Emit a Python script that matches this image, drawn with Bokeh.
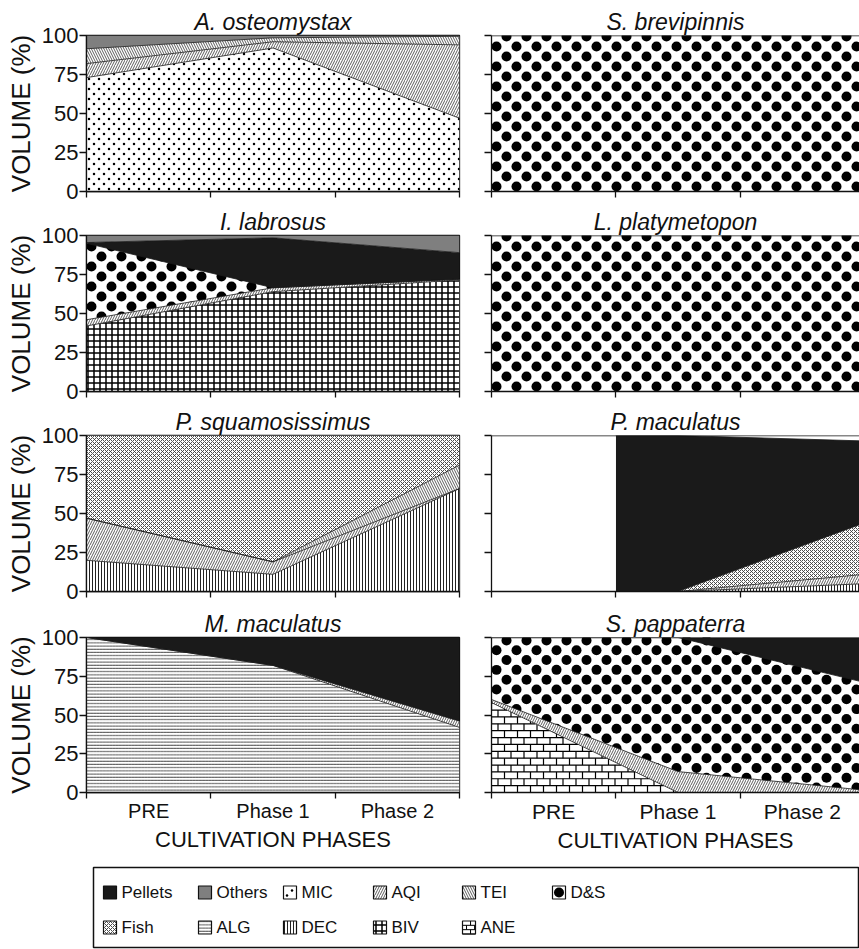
import math
import numpy as np
from bokeh.plotting import figure
from bokeh.layouts import column, row
from bokeh.models import FixedTicker, Range1d, Span
from bokeh.core.properties import value
from bokeh.embed import file_html
from bokeh.resources import INLINE

NAN = float("nan")

# ---------------------------------------------------------------- data
PHASES = ["PRE", "Phase 1", "Phase 2"]
LEGEND_ROW1 = ["Pellets", "Others", "MIC", "AQI", "TEI", "D&S"]
LEGEND_ROW2 = ["Fish", "ALG", "DEC", "BIV", "ANE"]
STACK_ORDER = ["BIV", "ANE", "DEC", "ALG", "MIC", "AQI", "TEI", "D&S", "Fish", "Pellets", "Others"]
Y_TICKS = [0, 25, 50, 75, 100]

# volume (%) of each food item at PRE, Phase 1, Phase 2
a_osteomystax = {"MIC": [73, 92, 47], "AQI": [9, 4, 47], "TEI": [9.5, 2.5, 5.5], "Others": [8.5, 1.5, 0.5]}
s_brevipinnis = {"D&S": [100, 100, 100]}
i_labrosus = {"BIV": [42, 64, 71.5], "AQI": [4, 2.5, 0.5], "D&S": [49, 0, 0],
              "Pellets": [0.5, 32, 17], "Others": [4.5, 1.5, 11]}
l_platymetopon = {"D&S": [100, 100, 100]}
p_squamosissimus = {"DEC": [20, 11, 66], "AQI": [27, 8, 0], "TEI": [0, 0, 15], "Fish": [53, 81, 19]}
p_maculatus = {"DEC": [NAN, 0, 5], "AQI": [NAN, 0, 6], "Fish": [NAN, 0, 33], "Pellets": [NAN, 100, 52.5]}
m_maculatus = {"ALG": [100, 82, 42], "AQI": [0, 0, 4], "Pellets": [0, 18, 54]}
s_pappaterra = {"ANE": [58, 0, 0], "AQI": [2, 13.5, 1.5], "D&S": [40, 86.5, 69.5], "Pellets": [0, 0, 29]}

PANELS = [
    ("A. osteomystax", a_osteomystax), ("S. brevipinnis", s_brevipinnis),
    ("I. labrosus", i_labrosus), ("L. platymetopon", l_platymetopon),
    ("P. squamosissimus", p_squamosissimus), ("P. maculatus", p_maculatus),
    ("M. maculatus", m_maculatus), ("S. pappaterra", s_pappaterra),
]

# ---------------------------------------------------------------- styles
FONT = "Liberation Sans"
INK = "#111111"

STYLE = {
    "Pellets": dict(fill_color="#1a1a1a"),
    "Others": dict(fill_color="#7f7f7f"),
    "MIC": dict(fill_color="white"),
    "AQI": dict(fill_color="white", hatch_pattern="right_diagonal_line", hatch_scale=5, hatch_weight=0.8, hatch_color="#333333"),
    "TEI": dict(fill_color="white", hatch_pattern="left_diagonal_line", hatch_scale=5, hatch_weight=0.8, hatch_color="#333333"),
    "D&S": dict(fill_color="white"),
    "Fish": dict(fill_color="white", hatch_pattern="diagonal_cross", hatch_scale=4, hatch_weight=0.9, hatch_color="#3a3a3a"),
    "ALG": dict(fill_color="white", hatch_pattern="horizontal_line", hatch_scale=3.2, hatch_weight=0.8, hatch_color="#222222"),
    "DEC": dict(fill_color="white", hatch_pattern="vertical_line", hatch_scale=3, hatch_weight=1.0, hatch_color="#222222"),
    "BIV": dict(fill_color="white", hatch_pattern="cross", hatch_scale=6, hatch_weight=1.5, hatch_color="black"),
    "ANE": dict(fill_color="white"),
}
# textures drawn as marks: staggered dots (period px, radius px) and bricks (height px, length px)
DOTS = {"MIC": (10, 1.25), "D&S": (20, 5.0)}
BRICKS = {"ANE": (7, 13)}

# ---------------------------------------------------------------- layout
FRAME_W = 373          # full width of one panel's plotting area
RIGHT_VISIBLE = 368    # right column is cut by the page edge
N_CAT = len(PHASES)
X_POINTS = [i * N_CAT / (N_CAT - 1) for i in range(N_CAT)]   # left edge, middle, right edge
CAT_EDGES = list(range(N_CAT + 1))
CAT_CENTERS = [c + 0.5 for c in range(N_CAT)]
ROW_BORDERS = [(35, 156, 14), (30, 156, 14), (30, 156, 14), (32, 158, 60)]  # top, frame, bottom


def stagger_points(w, h, period):
    half = period / 2.0
    pts = []
    k = -2
    while True:
        y = half / 2 + k * half
        if y > h + period:
            break
        shift = half if k % 2 else 0.0
        x = half / 2 + shift - 2 * period
        while x < w + period:
            pts.append((x, y))
            x += period
        k += 1
    return pts


def add_dots(p, xs, b, t, sx, sy, period, radius, pad_px, ox=0.0, oy=0.0):
    xs = np.asarray(xs, float)
    b = np.asarray(b, float)
    t = np.asarray(t, float)
    w = (xs[-1] - ox) * sx
    h = (t.max() - oy) * sy
    X, Y = [], []
    for px, py in stagger_points(w, h, period):
        xd = ox + px / sx
        yd = oy + py / sy
        if xd < xs[0] - pad_px / sx or xd > xs[-1] + pad_px / sx:
            continue
        lo = float(np.interp(xd, xs, b))
        hi = float(np.interp(xd, xs, t))
        if hi - lo < 0.05:
            continue
        if lo - pad_px / sy <= yd <= hi + pad_px / sy:
            X.append(xd)
            Y.append(yd)
    p.scatter(X, Y, size=2 * radius, marker="circle", fill_color="black", line_color=None)


def add_bricks(p, xs, b, t, sx, sy, bh, bw, lw, ox=0.0, oy=0.0):
    xs = np.asarray(xs, float)
    b = np.asarray(b, float)
    t = np.asarray(t, float)
    grid = np.arange(xs[0], xs[-1] + 1e-9, 0.25 / sx)
    lo = np.interp(grid, xs, b)
    hi = np.interp(grid, xs, t)
    x0s, y0s, x1s, y1s = [], [], [], []
    nrow = int((t.max() - oy) * sy / bh) + 1
    for k in range(nrow + 1):
        yd = oy + k * bh / sy
        mask = (lo <= yd + 1e-9) & (hi >= yd - 1e-9) & (hi - lo > 1e-6)
        idx = np.flatnonzero(mask)
        if idx.size:
            breaks = np.flatnonzero(np.diff(idx) > 1)
            starts = np.concatenate([[idx[0]], idx[breaks + 1]])
            ends = np.concatenate([idx[breaks], [idx[-1]]])
            for s_, e_ in zip(starts, ends):
                x0s.append(grid[s_]); x1s.append(grid[e_]); y0s.append(yd); y1s.append(yd)
        ya, yb = yd, oy + (k + 1) * bh / sy
        shift = bw / 2 if k % 2 else 0.0
        xj = ox + shift / sx
        while xj <= xs[-1] + 1e-9:
            if xj >= xs[0] - 1e-9:
                l_ = max(ya, float(np.interp(xj, xs, b)))
                h_ = min(yb, float(np.interp(xj, xs, t)))
                if h_ > l_:
                    x0s.append(xj); x1s.append(xj); y0s.append(l_); y1s.append(h_)
            xj += bw / sx
    p.segment(x0=x0s, y0=y0s, x1=x1s, y1=y1s, line_color="black", line_width=lw)


def build_layers(data):
    layers = []
    bottom = None
    for cat in STACK_ORDER:
        if cat not in data:
            continue
        vals = data[cat]
        valid = [i for i, v in enumerate(vals) if not math.isnan(v)]
        k0 = valid[0]
        xs = list(X_POINTS[k0:])
        ys = list(vals[k0:])
        if k0 > 0:  # no sampling before this phase: start at that phase's left edge
            xs = [CAT_EDGES[k0]] + xs
            ys = [ys[0]] + ys
        if bottom is None:
            bottom = [0.0] * len(xs)
        top = [bb + v for bb, v in zip(bottom, ys)]
        layers.append((cat, xs, bottom, top))
        bottom = top
    return layers


def draw_stack(p, data, sx, sy):
    layers = build_layers(data)
    # dotted layers first: dots that spill over an edge are covered by the neighbours
    for cat, xs, b, t in layers:
        if cat in DOTS:
            p.varea(x=xs, y1=b, y2=t, **STYLE[cat])
            period, radius = DOTS[cat]
            add_dots(p, xs, b, t, sx, sy, period, radius, radius)
    for cat, xs, b, t in layers:
        if cat in DOTS:
            continue
        p.varea(x=xs, y1=b, y2=t, **STYLE[cat])
        if cat in BRICKS:
            bh, bw = BRICKS[cat]
            add_bricks(p, xs, b, t, sx, sy, bh, bw, 1.2)
    for cat, xs, b, t in layers:
        if min(t) < 99.9:
            p.line(x=xs, y=t, line_color="#1a1a1a", line_width=0.8)


def make_panel(title, data, col, r):
    last = r == 3
    left = col == 0
    top_b, fh, bot_b = ROW_BORDERS[r]
    if left:
        bl, br = 86, 22
        w = bl + FRAME_W + br
        xend = N_CAT
    else:
        bl, br = 10, 0
        w = bl + RIGHT_VISIBLE + br
        xend = N_CAT * RIGHT_VISIBLE / FRAME_W
    p = figure(width=w, height=top_b + fh + bot_b,
               min_border_left=bl, min_border_right=br,
               min_border_top=top_b, min_border_bottom=bot_b,
               x_range=Range1d(0, xend), y_range=Range1d(0, 100),
               output_backend="svg", toolbar_location=None, title=title)
    p.grid.visible = False
    p.background_fill_color = "white"
    p.border_fill_color = "white"
    if left:
        p.outline_line_color = INK
        p.outline_line_width = 1.3
    else:
        p.outline_line_color = None
        p.add_layout(Span(location=100, dimension="width", line_color=INK, line_width=1.3))

    p.title.text_font = FONT
    p.title.text_font_size = "23px"
    p.title.text_font_style = "italic"
    p.title.text_color = INK
    p.title.align = "center"
    p.title.standoff = 2

    sx = FRAME_W / N_CAT      # px per category
    sy = fh / 100.0           # px per %
    draw_stack(p, data, sx, sy)
    first = next(iter(data.values()))
    missing = [i for i, v in enumerate(first) if math.isnan(v)]
    if missing:
        # phases without sampling stay blank
        p.quad(left=[CAT_EDGES[i] for i in missing], right=[CAT_EDGES[i + 1] for i in missing],
               bottom=0, top=100, fill_color="white", line_color=None)

    # y axis
    ya = p.yaxis[0]
    ya.axis_line_color = INK
    ya.axis_line_width = 1.3
    ya.major_tick_line_color = INK
    ya.major_tick_line_width = 1.3
    ya.minor_tick_line_color = INK
    ya.minor_tick_line_width = 1.3
    ya.major_tick_in = 0
    ya.major_tick_out = 7
    ya.minor_tick_in = 0
    ya.minor_tick_out = 7
    if left:
        ya.ticker = FixedTicker(ticks=Y_TICKS, minor_ticks=[])
        ya.major_label_text_font = FONT
        ya.major_label_text_font_size = "22px"
        ya.major_label_text_color = INK
        ya.major_label_standoff = 1
        ya.axis_label = "VOLUME (%)"
        ya.axis_label_text_font = FONT
        ya.axis_label_text_font_size = "26px"
        ya.axis_label_text_font_style = "normal"
        ya.axis_label_text_color = INK
        ya.axis_label_standoff = 3
    else:
        ya.ticker = FixedTicker(ticks=[], minor_ticks=Y_TICKS)
        ya.major_label_standoff = 0

    # x axis
    xa = p.xaxis[0]
    xa.axis_line_color = INK
    xa.axis_line_width = 1.3
    xa.minor_tick_line_color = INK
    xa.minor_tick_line_width = 1.3
    xa.minor_tick_in = 0
    xa.minor_tick_out = 6
    xa.major_tick_line_color = None
    xa.major_tick_in = 0
    xa.major_tick_out = 6
    if last:
        xa.ticker = FixedTicker(ticks=CAT_CENTERS, minor_ticks=CAT_EDGES)
        xa.major_label_overrides = {c: lab for c, lab in zip(CAT_CENTERS, PHASES)}
        xa.major_label_text_font = FONT
        xa.major_label_text_font_size = "20px" if left else "21px"
        xa.major_label_text_color = INK
        xa.major_label_standoff = 1
        xa.axis_label = "CULTIVATION PHASES"
        xa.axis_label_text_font = FONT
        xa.axis_label_text_font_size = "22px"
        xa.axis_label_text_font_style = "normal"
        xa.axis_label_text_color = INK
        xa.axis_label_standoff = 2
    else:
        xa.ticker = FixedTicker(ticks=[], minor_ticks=CAT_EDGES)
        xa.major_label_standoff = 0
    return p


rows = []
for r in range(4):
    figs = []
    for c in range(2):
        title, data = PANELS[2 * r + c]
        figs.append(make_panel(title, data, c, r))
    rows.append(row(*figs, spacing=0))

# ---------------------------------------------------------------- legend
LEG_W, LEG_H = 859, 94
leg = figure(width=LEG_W, height=LEG_H, x_range=Range1d(0, LEG_W), y_range=Range1d(0, LEG_H),
             min_border=0, output_backend="svg", toolbar_location=None,
             x_axis_type=None, y_axis_type=None)
leg.grid.visible = False
leg.outline_line_color = None
BOX_L, BOX_R, BOX_T, BOX_B = 93, 858, LEG_H - 12, 2
leg.quad(left=[BOX_L], right=[BOX_R], bottom=[BOX_B], top=[BOX_T], fill_color=None,
         line_color=INK, line_width=1.5)
COL_OFFSETS = [10, 105, 190, 280, 369, 459]
ROW_Y = [BOX_T - 25, BOX_T - 60]
SW = 13
for ri, names in enumerate([LEGEND_ROW1, LEGEND_ROW2]):
    for ci, name in enumerate(names):
        x0 = BOX_L + COL_OFFSETS[ci]
        yc = ROW_Y[ri]
        y0, y1 = yc - SW / 2, yc + SW / 2
        leg.quad(left=[x0], right=[x0 + SW], bottom=[y0], top=[y1], line_color=None, **STYLE[name])
        if name in DOTS:
            period, radius = DOTS[name]
            if name == "D&S":   # one large dot in the middle of the swatch
                ox, oy = x0 + SW / 2 - period / 4, y0 + SW / 2 - period / 4
                add_dots(leg, [x0, x0 + SW], [y0, y0], [y1, y1], 1.0, 1.0, period, radius, -1.5, ox, oy)
            else:
                ox, oy = x0 + 1.0, y0 + 1.0
                add_dots(leg, [x0, x0 + SW], [y0, y0], [y1, y1], 1.0, 1.0, period, radius, -radius, ox, oy)
        if name in BRICKS:
            bh, bw = BRICKS[name]
            add_bricks(leg, [x0, x0 + SW], [y0, y0], [y1, y1], 1.0, 1.0, bh * 0.62, bw * 0.62, 1.0, x0, y0)
        leg.quad(left=[x0], right=[x0 + SW], bottom=[y0], top=[y1], fill_color=None,
                 line_color=INK, line_width=1.2)
        leg.text(x=[x0 + SW + 5], y=[yc], text=[name], text_font=value(FONT),
                 text_font_size="17px", text_baseline="middle", text_align="left", text_color=INK)

layout = column(*rows, leg, spacing=0)
open("out.html", "w").write(file_html(layout, INLINE))
